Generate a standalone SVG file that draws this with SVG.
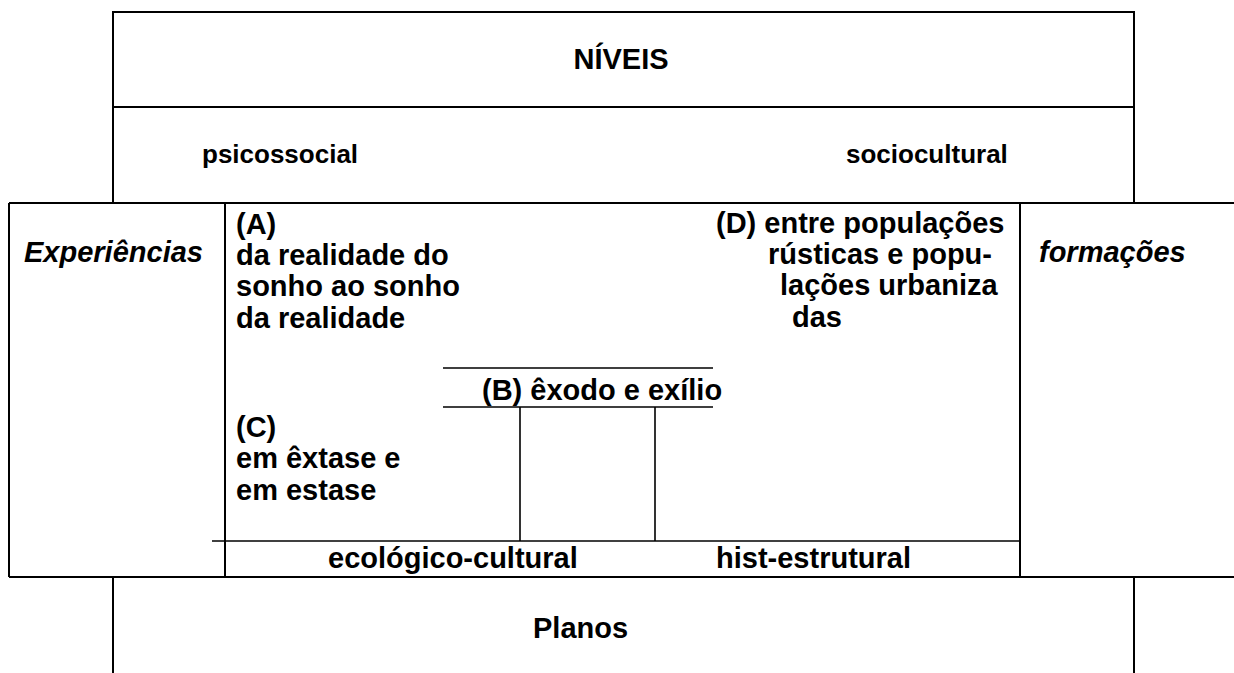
<svg xmlns="http://www.w3.org/2000/svg" width="1234" height="673" viewBox="0 0 1234 673">
<style>
.t{font-family:"Liberation Sans",Arial,sans-serif;font-weight:bold;font-size:29px;fill:#000}
.h{font-size:29px}
.s{font-size:26px}
.i{font-style:italic}
.ln{stroke:#000;stroke-width:2;fill:none}
.th{stroke:#000;stroke-width:1.6;fill:none}
</style>
<rect width="1234" height="673" fill="#fff"/>
<g id="connectors">
<path class="ln" d="M113 203 V12 H1134 V203"/>
<path class="ln" d="M113 107 H1134"/>
<path class="ln" d="M9 203 H1234 M9 577 H1234 M9 203 V577 M225 203 V577 M1020 203 V577"/>
<path class="th" d="M212 541 H1020"/>
<path class="th" d="M443 368 H713 M443 407 H713 M520 407 V541 M655 407 V541"/>
<path class="ln" d="M113 577 V673 M1134 577 V673"/>
</g>
<g id="niveis"><text class="t h" x="621" y="69" text-anchor="middle">NÍVEIS</text></g>
<g id="psicossocial"><text class="t s" x="202" y="163">psicossocial</text></g>
<g id="sociocultural"><text class="t s" x="846" y="163">sociocultural</text></g>
<g id="experiencias"><text class="t i" x="24" y="262">Experiências</text></g>
<g id="formacoes"><text class="t i" x="1039" y="262">formações</text></g>
<g id="nodeA">
<text class="t" x="236" y="234">(A)</text>
<text class="t" x="236" y="265">da realidade do</text>
<text class="t" x="236" y="296">sonho ao sonho</text>
<text class="t" x="236" y="328">da realidade</text>
</g>
<g id="nodeD">
<text class="t" x="716" y="233">(D) entre populações</text>
<text class="t" x="768" y="264">rústicas e popu-</text>
<text class="t" x="780" y="295">lações urbaniza</text>
<text class="t" x="792" y="327">das</text>
</g>
<g id="nodeB"><text class="t" x="482" y="400">(B) êxodo e exílio</text></g>
<g id="nodeC">
<text class="t" x="236" y="437">(C)</text>
<text class="t" x="236" y="468">em êxtase e</text>
<text class="t" x="236" y="500">em estase</text>
</g>
<g id="ecologico"><text class="t" x="328" y="568">ecológico-cultural</text></g>
<g id="hist"><text class="t" x="716" y="568">hist-estrutural</text></g>
<g id="planos"><text class="t h" x="533" y="638">Planos</text></g>
</svg>
